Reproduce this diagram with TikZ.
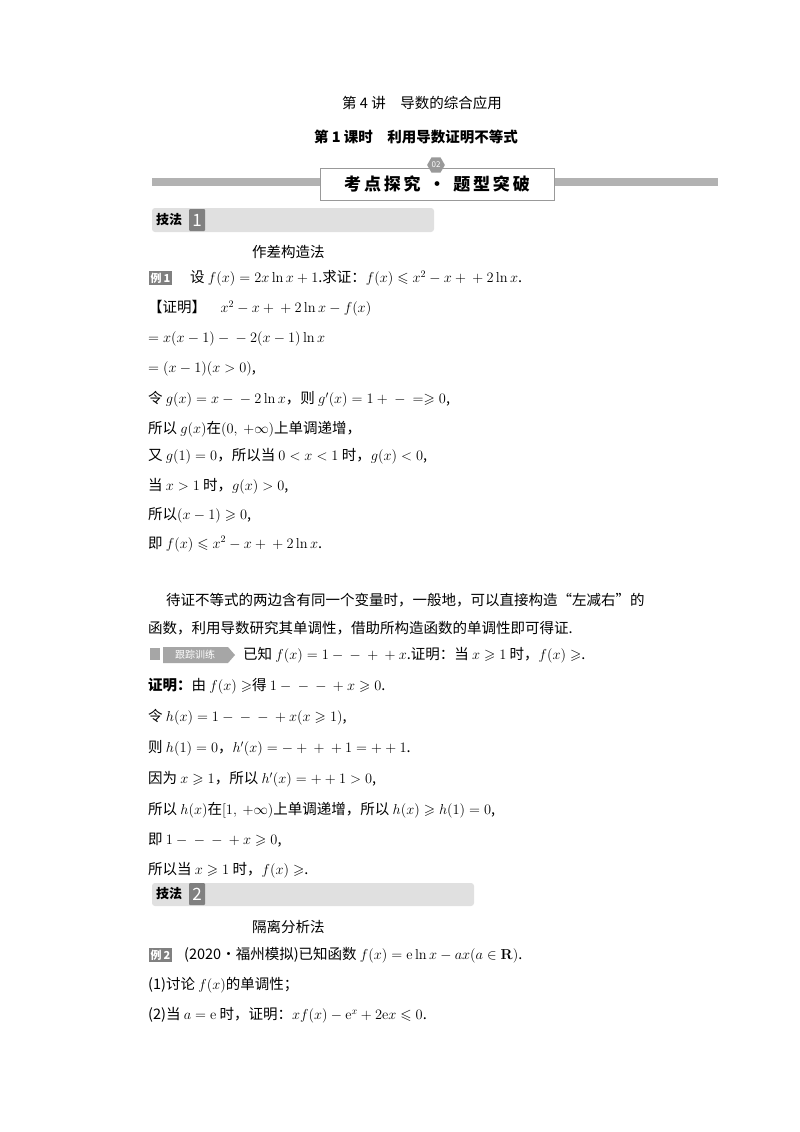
\documentclass[tikz,border=0pt]{standalone}
\usepackage{amssymb}
\usepackage[no-math]{fontspec}
\setmainfont{Noto Sans CJK SC}
\usetikzlibrary{shapes.geometric}
\begin{document}
\begin{tikzpicture}[x=1pt,y=-1pt,
 ln/.style={anchor=west,inner sep=0pt,font=\fontsize{14.5}{17}\selectfont},
 bar/.style={fill=black!12,rounded corners=3pt,draw=none},
 num/.style={fill=black!50,text=white,minimum width=16,minimum height=22,inner sep=0pt,rounded corners=1pt,font=\fontsize{17}{17}\selectfont}]
\useasboundingbox (0,0) rectangle (800,1132);
\fill[white] (0,0) rectangle (800,1132);
\node[font=\fontsize{14.5}{17}\selectfont] (t1) at (422,103) {第 4 讲\quad 导数的综合应用};
\node[font=\bfseries\fontsize{14.5}{17}\selectfont] (t2) at (416,137) {第 1 课时\quad 利用导数证明不等式};
% banner
\fill[black!30] (152,178) rectangle (718,186);
\node[draw=black!40,fill=white,minimum width=234,minimum height=32,font=\bfseries\fontsize{17}{19}\selectfont] (bn) at (437,184) {考\,点\,探\,究\ \ ·\ \ 题\,型\,突\,破};
\node[regular polygon,regular polygon sides=6,fill=black!40,text=white,inner sep=1pt,font=\fontsize{8}{8}\selectfont] (hx) at (436,165) {02};
% 技法1
\fill[bar] (152,208) rectangle (434,232);
\node[ln,font=\bfseries\fontsize{13}{15}\selectfont] (j1) at (156,220) {技法};
\node[num] (n1) at (197,220) {1};
\node[ln] (a1) at (252,252) {作差构造法};
\node[ln,fill=black!50,text=white,inner sep=1.5pt,font=\bfseries\fontsize{11}{12}\selectfont] (e1) at (149,278) {例\,1};
\node[ln] (l1) at (190,278) {设 $f(x)=2x\ln x+1$.求证：$f(x)\leqslant x^2-x+{}+2\ln x$.};
\node[ln] (l2) at (148,308) {【证明】\quad $x^2-x+{}+2\ln x-f(x)$};
\node[ln] (l3) at (148,339) {$=x(x-1)-{}-2(x-1)\ln x$};
\node[ln] (l4) at (148,369) {$=(x-1)(x>0)$,};
\node[ln] (l5) at (148,399) {令 $g(x)=x-{}-2\ln x$，则 $g'(x)=1+{}-{}=\geqslant 0$,};
\node[ln] (l6) at (148,429) {所以 $g(x)$在$(0,\ +\infty)$上单调递增，};
\node[ln] (l7) at (148,456) {又 $g(1)=0$，所以当 $0<x<1$ 时，$g(x)<0$,};
\node[ln] (l8) at (148,486) {当 $x>1$ 时，$g(x)>0$,};
\node[ln] (l9) at (148,515) {所以$(x-1)\geqslant 0$,};
\node[ln] (l10) at (148,544) {即 $f(x)\leqslant x^2-x+{}+2\ln x$.};
\node[ln] (p1) at (166,600) {待证不等式的两边含有同一个变量时，一般地，可以直接构造“左减右”的};
\node[ln] (p2) at (148,628) {函数，利用导数研究其单调性，借助所构造函数的单调性即可得证.};
% 跟踪训练
\fill[black!35] (150,648) rectangle (160,660);
\fill[black!35] (163,647) -- (228,647) -- (235,655) -- (228,663) -- (163,663) -- cycle;
\node[inner sep=0pt,text=white,font=\fontsize{10}{10}\selectfont] (gz) at (195,655) {跟踪训练};
\node[ln] (q0) at (243,655) {已知 $f(x)=1-{}-{}+{}+x$.证明：当 $x\geqslant 1$ 时，$f(x)\geqslant$.};
\node[ln] (q1) at (148,686) {\bfseries 证明：\mdseries 由 $f(x)\geqslant$得 $1-{}-{}-{}+x\geqslant 0$.};
\node[ln] (q2) at (148,717) {令 $h(x)=1-{}-{}-{}+x(x\geqslant 1)$,};
\node[ln] (q3) at (148,748) {则 $h(1)=0$，$h'(x)=-{}+{}+{}+1=+{}+1$.};
\node[ln] (q4) at (148,779) {因为 $x\geqslant 1$，所以 $h'(x)=+{}+1>0$,};
\node[ln] (q5) at (148,810) {所以 $h(x)$在$[1,\ +\infty)$上单调递增，所以 $h(x)\geqslant h(1)=0$,};
\node[ln] (q6) at (148,840) {即 $1-{}-{}-{}+x\geqslant 0$,};
\node[ln] (q7) at (148,870) {所以当 $x\geqslant 1$ 时，$f(x)\geqslant$.};
% 技法2
\fill[bar] (152,883) rectangle (474,906);
\node[ln,font=\bfseries\fontsize{13}{15}\selectfont] (j2) at (156,894) {技法};
\node[num] (n2) at (197,894) {2};
\node[ln] (b1) at (252,927) {隔离分析法};
\node[ln,fill=black!50,text=white,inner sep=1.5pt,font=\bfseries\fontsize{11}{12}\selectfont] (e2) at (149,955) {例\,2};
\node[ln] (r1) at (184,955) {(2020·福州模拟)已知函数 $f(x)=\mathrm{e}\ln x-ax(a\in\mathbf{R})$.};
\node[ln] (r2) at (148,985) {(1)讨论 $f(x)$的单调性；};
\node[ln] (r3) at (148,1015) {(2)当 $a=\mathrm{e}$ 时，证明：$xf(x)-\mathrm{e}^x+2\mathrm{e}x\leqslant 0$.};
\end{tikzpicture}
\end{document}
